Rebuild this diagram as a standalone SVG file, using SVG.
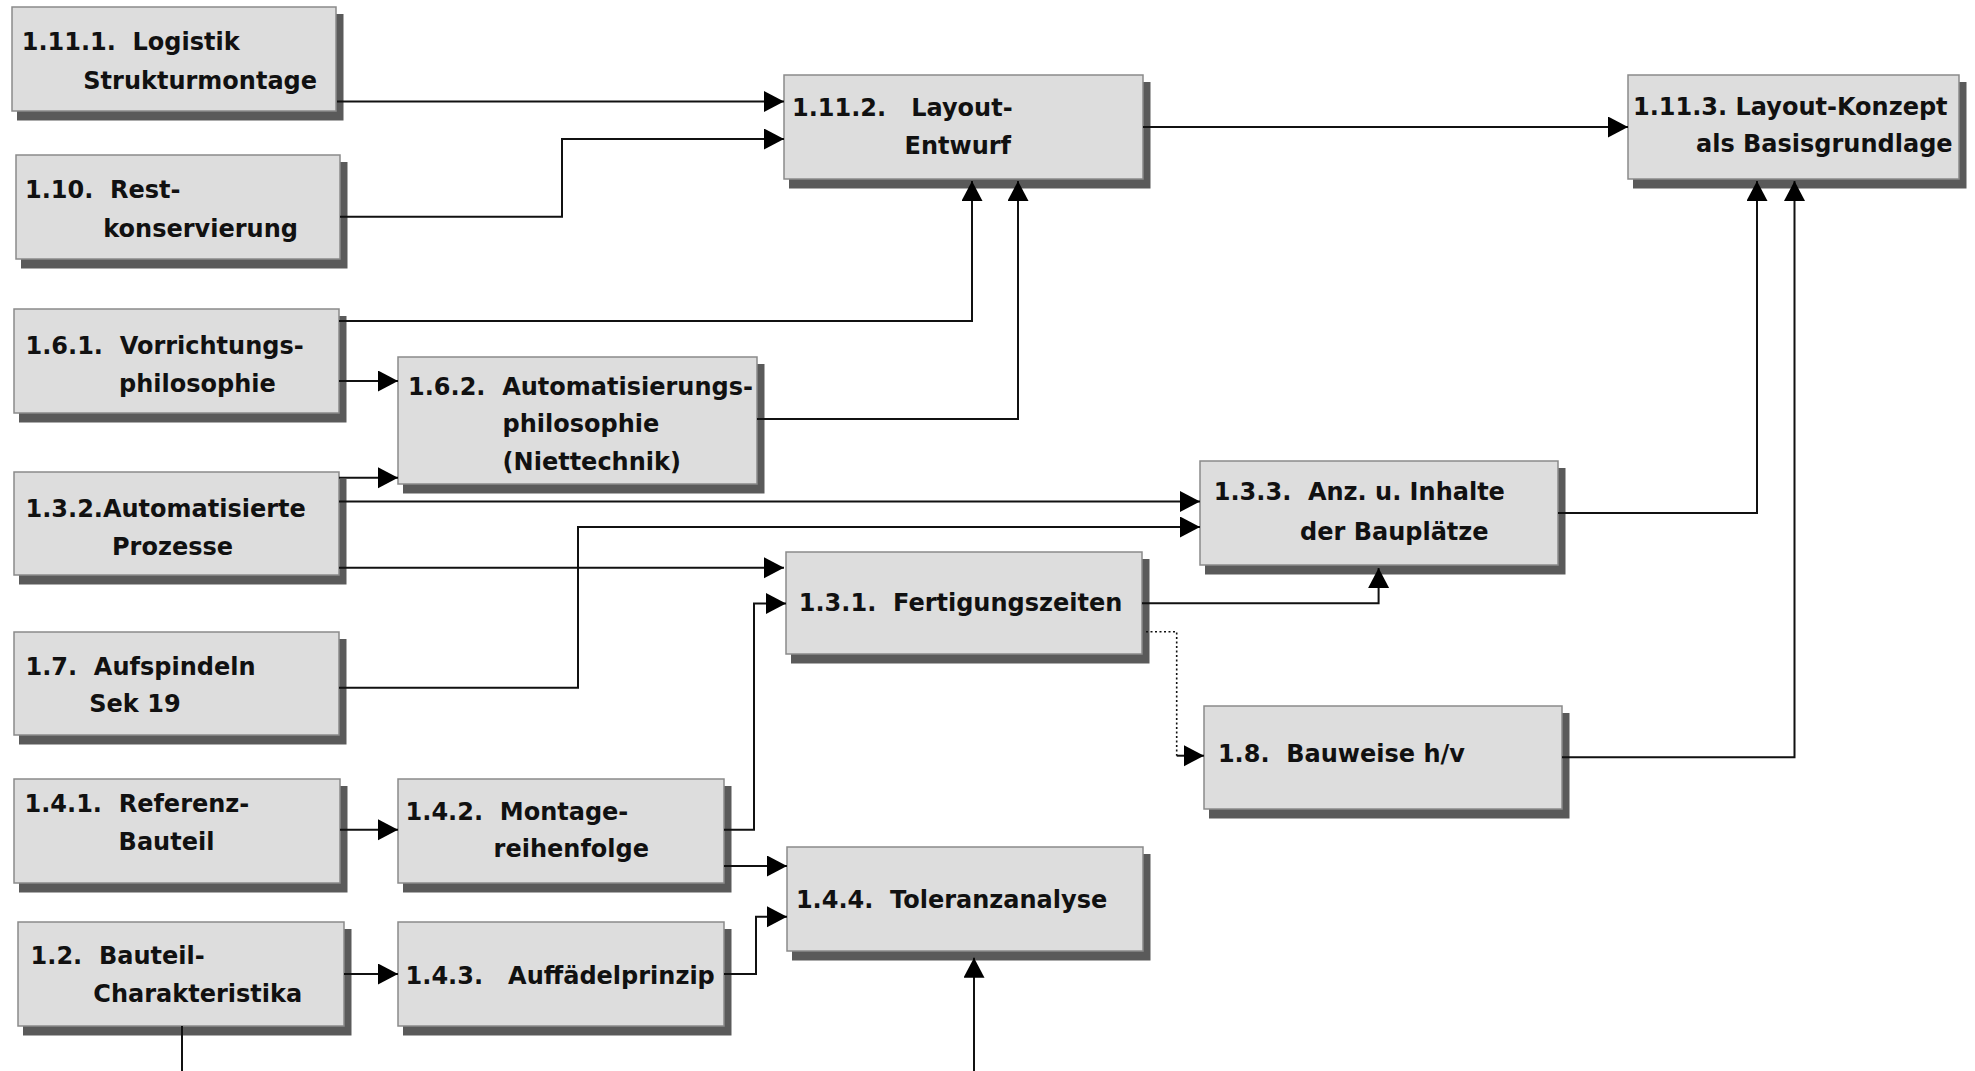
<svg xmlns="http://www.w3.org/2000/svg" width="1975" height="1071" viewBox="0 0 1975 1071">
  <style>
    .shadow { fill: #5a5a5a; }
    .box { fill: #dddddd; stroke: #8a8a8a; stroke-width: 1.5; }
    .lbl { font-family: "DejaVu Sans", "Liberation Sans", sans-serif; font-weight: bold; font-size: 24px; fill: #111111; white-space: pre; }
    .wire { fill: none; stroke: #111111; stroke-width: 2; }
    .dot { fill: none; stroke: #111111; stroke-width: 1.6; stroke-dasharray: 2 2.5; }
  </style>
  <defs>
    <marker id="arrow" markerUnits="userSpaceOnUse" markerWidth="21" markerHeight="22" refX="20" refY="10.5" orient="auto" viewBox="0 0 21 22">
      <path d="M0,0 L20,10.5 L0,21 Z" fill="#000000"/>
    </marker>
  </defs>
  <rect width="1975" height="1071" fill="#ffffff"/>

  <!-- nodes: shadow, box, label lines -->
  <g id="n-1-11-1">
    <rect class="shadow" x="17" y="14" width="326.5" height="106.5"/>
    <rect class="box" x="12" y="7" width="324" height="104"/>
    <text class="lbl" x="21.7" y="50">1.11.1.  Logistik</text>
    <text class="lbl" x="83.3" y="89.3">Strukturmontage</text>
  </g>
  <g id="n-1-10">
    <rect class="shadow" x="21" y="162" width="326.5" height="106.5"/>
    <rect class="box" x="16" y="155" width="324" height="104"/>
    <text class="lbl" x="25" y="198.3">1.10.  Rest-</text>
    <text class="lbl" x="103.3" y="236.7">konservierung</text>
  </g>
  <g id="n-1-6-1">
    <rect class="shadow" x="19" y="316" width="327.5" height="106.5"/>
    <rect class="box" x="14" y="309" width="325" height="104"/>
    <text class="lbl" x="25.5" y="354.3">1.6.1.  Vorrichtungs-</text>
    <text class="lbl" x="119" y="391.7">philosophie</text>
  </g>
  <g id="n-1-3-2">
    <rect class="shadow" x="19" y="479" width="327.5" height="105.5"/>
    <rect class="box" x="14" y="472" width="325" height="103"/>
    <text class="lbl" x="25.5" y="517.3">1.3.2.Automatisierte</text>
    <text class="lbl" x="112" y="555">Prozesse</text>
  </g>
  <g id="n-1-7">
    <rect class="shadow" x="19" y="639" width="327.5" height="105.5"/>
    <rect class="box" x="14" y="632" width="325" height="103"/>
    <text class="lbl" x="25.5" y="675">1.7.  Aufspindeln</text>
    <text class="lbl" x="89.3" y="712.3">Sek 19</text>
  </g>
  <g id="n-1-4-1">
    <rect class="shadow" x="19" y="786" width="328.5" height="106.5"/>
    <rect class="box" x="14" y="779" width="326" height="104"/>
    <text class="lbl" x="24.5" y="811.7">1.4.1.  Referenz-</text>
    <text class="lbl" x="118.6" y="850">Bauteil</text>
  </g>
  <g id="n-1-2">
    <rect class="shadow" x="23" y="929" width="328.5" height="106.5"/>
    <rect class="box" x="18" y="922" width="326" height="104"/>
    <text class="lbl" x="30.6" y="964.3">1.2.  Bauteil-</text>
    <text class="lbl" x="93.3" y="1001.7">Charakteristika</text>
  </g>
  <g id="n-1-6-2">
    <rect class="shadow" x="403" y="364" width="361.5" height="129.5"/>
    <rect class="box" x="398" y="357" width="359" height="127"/>
    <text class="lbl" x="408" y="395">1.6.2.  Automatisierungs-</text>
    <text class="lbl" x="502.6" y="432.3">philosophie</text>
    <text class="lbl" x="502.6" y="470">(Niettechnik)</text>
  </g>
  <g id="n-1-4-2">
    <rect class="shadow" x="403" y="786" width="328.5" height="106.5"/>
    <rect class="box" x="398" y="779" width="326" height="104"/>
    <text class="lbl" x="405.6" y="820">1.4.2.  Montage-</text>
    <text class="lbl" x="493.6" y="857.3">reihenfolge</text>
  </g>
  <g id="n-1-4-3">
    <rect class="shadow" x="403" y="929" width="328.5" height="106.5"/>
    <rect class="box" x="398" y="922" width="326" height="104"/>
    <text class="lbl" x="405.6" y="984.3">1.4.3.   Auffädelprinzip</text>
  </g>
  <g id="n-1-11-2">
    <rect class="shadow" x="789" y="82" width="361.5" height="106.5"/>
    <rect class="box" x="784" y="75" width="359" height="104"/>
    <text class="lbl" x="792" y="116">1.11.2.   Layout-</text>
    <text class="lbl" x="904.5" y="154.3">Entwurf</text>
  </g>
  <g id="n-1-3-1">
    <rect class="shadow" x="791" y="559" width="358.5" height="104.5"/>
    <rect class="box" x="786" y="552" width="356" height="102"/>
    <text class="lbl" x="798.8" y="611">1.3.1.  Fertigungszeiten</text>
  </g>
  <g id="n-1-4-4">
    <rect class="shadow" x="792" y="854" width="358.5" height="106.5"/>
    <rect class="box" x="787" y="847" width="356" height="104"/>
    <text class="lbl" x="795.9" y="907.7">1.4.4.  Toleranzanalyse</text>
  </g>
  <g id="n-1-3-3">
    <rect class="shadow" x="1205" y="468" width="360.5" height="106.5"/>
    <rect class="box" x="1200" y="461" width="358" height="104"/>
    <text class="lbl" x="1213.8" y="500">1.3.3.  Anz. u. Inhalte</text>
    <text class="lbl" x="1300" y="540">der Bauplätze</text>
  </g>
  <g id="n-1-8">
    <rect class="shadow" x="1209" y="713" width="360.5" height="105.5"/>
    <rect class="box" x="1204" y="706" width="358" height="103"/>
    <text class="lbl" x="1217.9" y="762.3">1.8.  Bauweise h/v</text>
  </g>
  <g id="n-1-11-3">
    <rect class="shadow" x="1633" y="82" width="333.5" height="106.5"/>
    <rect class="box" x="1628" y="75" width="331" height="104"/>
    <text class="lbl" x="1633" y="115">1.11.3. Layout-Konzept</text>
    <text class="lbl" x="1696" y="151.7">als Basisgrundlage</text>
  </g>

  <!-- connectors -->
  <g id="connectors">
    <path class="wire" d="M337,101.5 H784" marker-end="url(#arrow)"/>
    <path class="wire" d="M340,216.7 H562 V139 H784" marker-end="url(#arrow)"/>
    <path class="wire" d="M339,321 H972 V181" marker-end="url(#arrow)"/>
    <path class="wire" d="M757,419 H1018 V181" marker-end="url(#arrow)"/>
    <path class="wire" d="M1143,127 H1628" marker-end="url(#arrow)"/>
    <path class="wire" d="M1558,513 H1757 V181" marker-end="url(#arrow)"/>
    <path class="wire" d="M1562,757.3 H1794.5 V181" marker-end="url(#arrow)"/>
    <path class="wire" d="M339,381 H398" marker-end="url(#arrow)"/>
    <path class="wire" d="M339,477.7 H398" marker-end="url(#arrow)"/>
    <path class="wire" d="M339,501.5 H1200" marker-end="url(#arrow)"/>
    <path class="wire" d="M339,687.7 H578 V527 H1200" marker-end="url(#arrow)"/>
    <path class="wire" d="M339,567.7 H784" marker-end="url(#arrow)"/>
    <path class="wire" d="M724,829.7 H754 V603.5 H786" marker-end="url(#arrow)"/>
    <path class="wire" d="M1142,603.3 H1378.6 V568" marker-end="url(#arrow)"/>
    <path class="dot" d="M1146,631.7 H1176.7 V755.7"/>
    <path class="wire" d="M1176.7,755.7 H1204" marker-end="url(#arrow)"/>
    <path class="wire" d="M340,829.7 H398" marker-end="url(#arrow)"/>
    <path class="wire" d="M724,866 H787" marker-end="url(#arrow)"/>
    <path class="wire" d="M344,974 H398" marker-end="url(#arrow)"/>
    <path class="wire" d="M724,974 H756 V916.7 H787" marker-end="url(#arrow)"/>
    <path class="wire" d="M182,1026 V1071"/>
    <path class="wire" d="M974,1071 V957.7" marker-end="url(#arrow)"/>
  </g>
</svg>
